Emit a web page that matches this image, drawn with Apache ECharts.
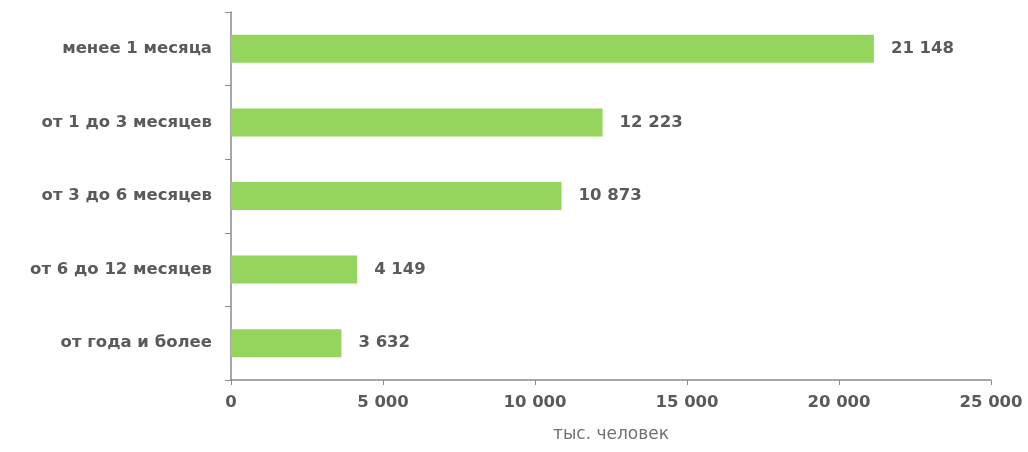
<!DOCTYPE html>
<html>
<head>
<meta charset="utf-8">
<script src="https://cdn.jsdelivr.net/npm/echarts@6/dist/echarts.min.js"></script>
<style>
html,body{margin:0;padding:0;background:#fff;}
#chart{width:1028px;height:452px;}
</style>
</head>
<body>
<div id="chart"></div>
<script>
const categories = ['менее 1 месяца', 'от 1 до 3 месяцев', 'от 3 до 6 месяцев', 'от 6 до 12 месяцев', 'от года и более'];
const values = [21148, 12223, 10873, 4149, 3632];
const axisName = 'тыс. человек';

function fmt(v) {
  return String(v).replace(/\B(?=(\d{3})+(?!\d))/g, ' ');
}

const chart = echarts.init(document.getElementById('chart'), null, {renderer: 'canvas'});
chart.setOption({
  animation: false,
  backgroundColor: '#ffffff',
  grid: {left: 231, right: 37, top: 12, bottom: 72, containLabel: false},
  xAxis: {
    type: 'value',
    min: 0, max: 25000, interval: 5000,
    name: axisName,
    nameLocation: 'middle',
    nameGap: 46,
    nameTextStyle: {fontFamily: 'DejaVu Sans', fontSize: 17, color: '#707070'},
    axisLine: {show: true, lineStyle: {color: '#8a8a8a', width: 1.5}},
    axisTick: {show: true, length: 5, lineStyle: {color: '#8a8a8a'}},
    splitLine: {show: false},
    axisLabel: {
      margin: 14,
      fontFamily: 'DejaVu Sans', fontWeight: 'bold', fontSize: 16.5, color: '#5a5a5a',
      formatter: v => fmt(v)
    }
  },
  yAxis: {
    type: 'category',
    data: categories,
    inverse: true,
    axisLine: {show: true, lineStyle: {color: '#8a8a8a', width: 1.5}},
    axisTick: {show: true, length: 6, lineStyle: {color: '#8a8a8a'}},
    axisLabel: {
      margin: 19,
      fontFamily: 'DejaVu Sans', fontWeight: 'bold', fontSize: 16.5, color: '#5a5a5a'
    }
  },
  series: [{
    type: 'bar',
    data: values,
    barWidth: 28,
    itemStyle: {color: '#95d55d'},
    label: {
      show: true, position: 'right', distance: 17,
      fontFamily: 'DejaVu Sans', fontWeight: 'bold', fontSize: 16.5, color: '#5a5a5a',
      formatter: p => fmt(p.value)
    }
  }]
});
</script>
</body>
</html>
